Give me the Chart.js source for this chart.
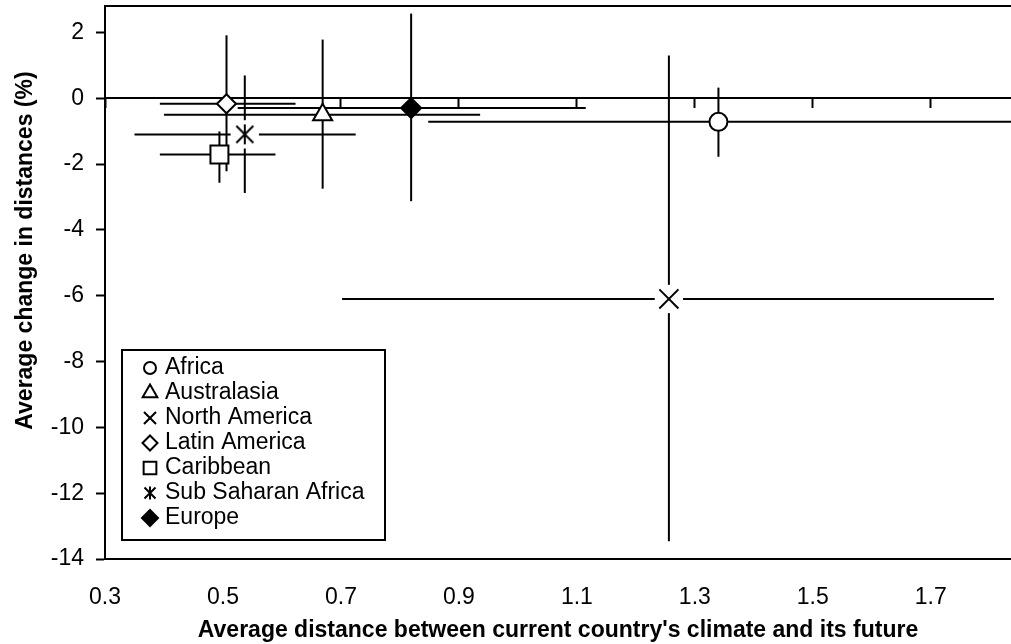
<!DOCTYPE html>
<html lang="en">
<head>
  <meta charset="UTF-8">
  <title>Climate distance and change in distances by region</title>
  <style>
    html, body { margin: 0; padding: 0; background: #fff; overflow: hidden; }
    #wrap { width: 1011px; height: 644px; }
  </style>
</head>
<body>
  <div id="wrap"><canvas id="chart"></canvas></div>

  <script src="https://cdn.jsdelivr.net/npm/chart.js"></script>
  <script>
    // data
    const regions = ["Africa", "Australasia", "North America", "Latin America", "Caribbean", "Sub Saharan Africa", "Europe"];
    const meanX = [1.340, 0.669, 1.256, 0.506, 0.494, 0.537, 0.819];
    const meanY = [-0.72, -0.50, -6.10, -0.17, -1.71, -1.10, -0.30];
    const lowX  = [0.848, 0.400, 0.702, 0.393, 0.393, 0.350, 0.525];
    const highX = [1.880, 0.936, 1.807, 0.623, 0.589, 0.725, 1.115];
    const lowY  = [-1.78, -2.75, -13.46, -2.22, -2.57, -2.88, -3.13];
    const highY = [0.32, 1.78, 1.30, 1.91, -1.01, 0.69, 2.57];

    const xTicks = [0.3, 0.5, 0.7, 0.9, 1.1, 1.3, 1.5, 1.7];
    const yTicks = [-14, -12, -10, -8, -6, -4, -2, 0, 2];

    const FONT = '"Liberation Sans", Arial, Helvetica, sans-serif';

    // asterisk marker (x plus vertical stroke)
    function asterisk(size, arm, stem) {
      const c = document.createElement("canvas");
      c.width = c.height = size;
      const g = c.getContext("2d");
      const m = size / 2;
      g.strokeStyle = "#000";
      g.lineWidth = 2;
      g.beginPath();
      g.moveTo(m - arm, m - arm); g.lineTo(m + arm, m + arm);
      g.moveTo(m - arm, m + arm); g.lineTo(m + arm, m - arm);
      g.moveTo(m, m - stem); g.lineTo(m, m + stem);
      g.stroke();
      return c;
    }

    // marker styles, one per region
    const markers = [
      { style: "circle",   r: 9,    fill: "#fff", mask: false, legend: { style: "circle",   r: 6 } },
      { style: "triangle", r: 11,   fill: "#fff", mask: false, legend: { style: "triangle", r: 8.5 } },
      { style: "crossRot", r: 13.5, fill: "#fff", mask: true,  legend: { style: "crossRot", r: 8.5 } },
      { style: "rectRot",  r: 9.5,  fill: "#fff", mask: false, legend: { style: "rectRot",  r: 7.5 } },
      { style: "rect",     r: 12.7, fill: "#fff", mask: false, legend: { style: "rect",     r: 9 } },
      { style: asterisk(22, 8.5, 10), r: 11, fill: "#fff", mask: true, legend: { style: asterisk(16, 5.5, 6.5), r: 8 } },
      { style: "rectRot",  r: 10,   fill: "#000", mask: false, legend: { style: "rectRot",  r: 8 } }
    ];

    const datasets = [];

    regions.forEach((name, i) => {
      // error bars, no caps
      datasets.push({
        label: name + " x",
        data: [{ x: lowX[i], y: meanY[i] }, { x: highX[i], y: meanY[i] }],
        showLine: true, borderColor: "#000", borderWidth: 2, pointRadius: 0, order: 3
      });
      datasets.push({
        label: name + " y",
        data: [{ x: meanX[i], y: lowY[i] }, { x: meanX[i], y: highY[i] }],
        showLine: true, borderColor: "#000", borderWidth: 2, pointRadius: 0, order: 3
      });
      // white box behind open cross markers
      if (markers[i].mask) {
        datasets.push({
          label: name + " mask",
          data: [{ x: meanX[i], y: meanY[i] }],
          pointStyle: "rect", pointRadius: 20, pointBorderWidth: 0,
          pointBackgroundColor: "#fff", pointBorderColor: "#fff", order: 2
        });
      }
      datasets.push({
        label: name,
        data: [{ x: meanX[i], y: meanY[i] }],
        pointStyle: markers[i].style,
        pointRadius: markers[i].r,
        pointBorderWidth: 2,
        pointBorderColor: "#000",
        pointBackgroundColor: markers[i].fill,
        order: 1
      });
    });

    // top edge of the plot frame
    const frame = {
      id: "frame",
      beforeDatasetsDraw(chart) {
        const { ctx, chartArea: a } = chart;
        ctx.save();
        ctx.strokeStyle = "#000";
        ctx.lineWidth = 2;
        ctx.beginPath();
        ctx.moveTo(a.left, a.top);
        ctx.lineTo(a.right, a.top);
        ctx.stroke();
        ctx.restore();
      }
    };

    // boxed legend in the lower left of the plot
    const boxLegend = {
      id: "boxLegend",
      afterDatasetsDraw(chart) {
        const { ctx, chartArea: a } = chart;
        const left = a.left + 17, top = a.bottom - 209, w = 263, h = 190;
        ctx.save();
        ctx.fillStyle = "#fff";
        ctx.fillRect(left, top, w, h);
        ctx.strokeStyle = "#000";
        ctx.lineWidth = 2;
        ctx.strokeRect(left, top, w, h);
        ctx.font = "23px " + FONT;
        ctx.textBaseline = "middle";
        ctx.textAlign = "left";
        regions.forEach((name, i) => {
          const y = top + 18 + i * 25;
          ctx.fillStyle = markers[i].fill;
          ctx.strokeStyle = "#000";
          ctx.lineWidth = 2;
          Chart.helpers.drawPoint(ctx, {
            pointStyle: markers[i].legend.style,
            radius: markers[i].legend.r,
            borderWidth: 2,
            rotation: 0
          }, left + 28, y);
          ctx.fillStyle = "#000";
          ctx.fillText(name, left + 43, y);
        });
        ctx.restore();
      }
    };

    // keep tick labels from pushing the plot edges inwards
    function noEdgePadding(s) {
      s.paddingTop = 0;
      s.paddingBottom = 0;
      s.paddingLeft = 0;
      s.paddingRight = 0;
    }

    new Chart(document.getElementById("chart"), {
      type: "scatter",
      data: { datasets: datasets },
      plugins: [frame, boxLegend],
      options: {
        responsive: true,
        maintainAspectRatio: false,
        animation: false,
        layout: { autoPadding: false, padding: { top: 6, right: 0, bottom: 0, left: 0 } },
        plugins: {
          legend: { display: false },
          tooltip: { enabled: false }
        },
        scales: {
          x: {
            type: "linear",
            position: "bottom",
            min: 0.3,
            max: 1.836,
            afterBuildTicks: s => { s.ticks = xTicks.map(v => ({ value: v })); },
            afterFit: s => { s.height = 85; noEdgePadding(s); },
            grid: { display: false, drawTicks: false },
            border: { display: true, color: "#000", width: 2 },
            ticks: {
              color: "#000",
              font: { family: FONT, size: 23 },
              padding: 25,
              maxRotation: 0,
              callback: v => v.toFixed(1)
            },
            title: {
              display: true,
              text: "Average distance between current country's climate and its future",
              color: "#000",
              font: { family: FONT, size: 23, weight: "bold" },
              padding: { top: 4, bottom: 0 }
            }
          },
          // axis line crossing at y = 0 with its tick marks
          x0: {
            type: "linear",
            axis: "x",
            position: { y: 0 },
            min: 0.3,
            max: 1.836,
            afterBuildTicks: s => { s.ticks = xTicks.map(v => ({ value: v })); },
            afterFit: noEdgePadding,
            grid: { drawOnChartArea: false, drawTicks: true, tickLength: 9, tickColor: "#000", tickWidth: 2 },
            border: { display: true, color: "#000", width: 2 },
            ticks: { display: false }
          },
          y: {
            type: "linear",
            position: "left",
            min: -14,
            max: 2.8,
            afterBuildTicks: s => { s.ticks = yTicks.map(v => ({ value: v })); },
            afterFit: s => { s.width = 105; noEdgePadding(s); },
            grid: { drawOnChartArea: false, drawTicks: true, tickLength: 9, tickColor: "#000", tickWidth: 2 },
            border: { display: true, color: "#000", width: 2 },
            ticks: {
              color: "#000",
              font: { family: FONT, size: 23 },
              padding: 12,
              callback: v => String(v)
            },
            title: {
              display: true,
              // leading spaces lift the centred title, as in the original layout
              text: "\u00a0\u00a0\u00a0\u00a0\u00a0\u00a0\u00a0\u00a0\u00a0\u00a0Average change in distances (%)",
              color: "#000",
              font: { family: FONT, size: 23, weight: "bold" },
              padding: { top: 12, bottom: 0 }
            }
          }
        }
      }
    });
  </script>
</body>
</html>
